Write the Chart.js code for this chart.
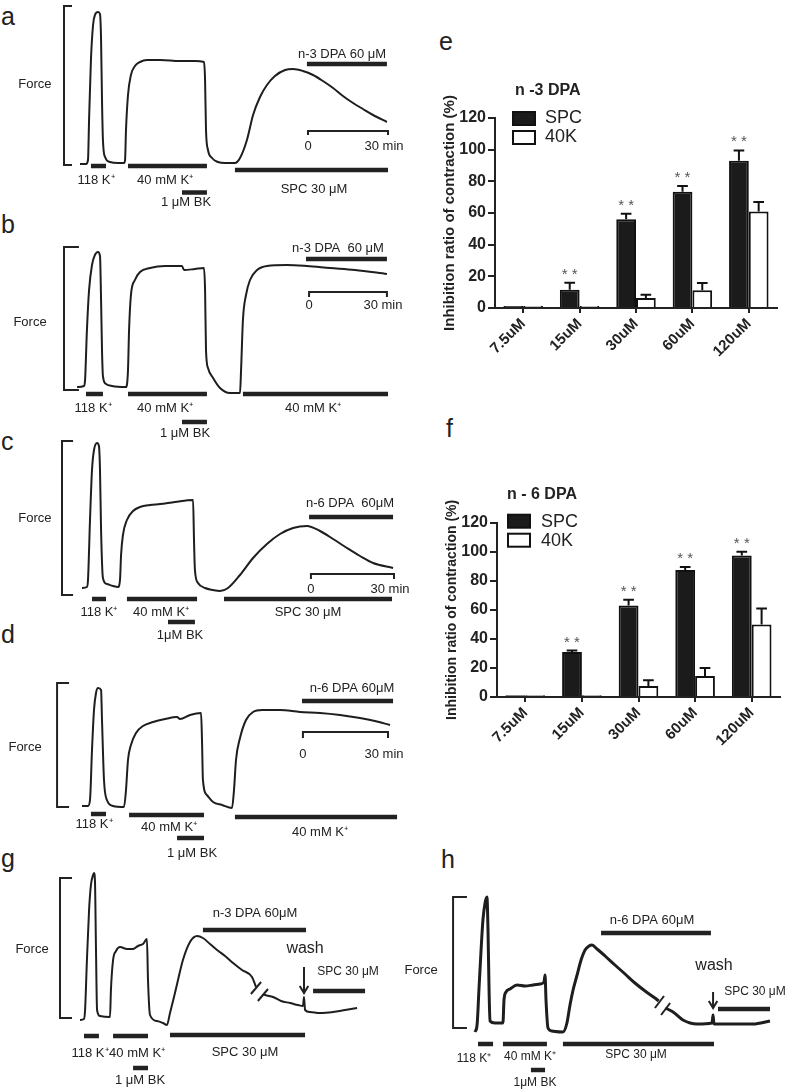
<!DOCTYPE html>
<html>
<head>
<meta charset="utf-8">
<script src="https://cdn.jsdelivr.net/npm/chart.js@4.4.1/dist/chart.umd.min.js"></script>
<style>
  body { margin: 0; background: #fff; width: 787px; height: 1092px; position: relative; overflow: hidden;
         font-family: "Liberation Sans", Arial, sans-serif; }
  canvas { position: absolute; }
  .lt { position: absolute; font-size: 25px; line-height: 1; color: #222; }
</style>
</head>
<body>
<div class="lt" style="left:1px;top:4px">a</div>
<div class="lt" style="left:1px;top:212px">b</div>
<div class="lt" style="left:1px;top:429px">c</div>
<div class="lt" style="left:1px;top:622px">d</div>
<div class="lt" style="left:439px;top:29px">e</div>
<div class="lt" style="left:446px;top:416px">f</div>
<div class="lt" style="left:1px;top:846px">g</div>
<div class="lt" style="left:441px;top:847px">h</div>

<script>
// -------------------------------------------------------
// 1. DATA
// traces: time in minutes, force in arbitrary units (0 = baseline)
// treatments: [label, start min, end min]
// -------------------------------------------------------
const aTime  = [30,32.25,33,33.4,34.1,34.9,35.6,36.75,37.5,37.9,38.25,38.6,39.4,41.25,44.25,46.5,46.9,47.25,48,49.1,50.6,52.5,55.1,60,67.5,73.1,76.5,76.9,77.25,78,79.5,81.75,84.4,88.1,90,92.6,94.9,97.5,100.1,103.1,106.9,109.9,113.6,117.4,121.1,124.9,128.6,132.4,136.1,139.9,145.1];
const aForce = [1,1,5,45,105,140,150,153,151,125,65,25,8,3,2,2,5,35,70,90,99,103,105,105,104,104,103,85,35,15,7,3,2,2,7,25,50,68,80,89,95,96,94,90,84,77,69,62,56,50,43];
const aTreat = [['118 K⁺',34.1,39.75],['40 mM K⁺',48,77.6],['1 μM BK',68.25,77.6],['SPC 30 μM',88.1,145.5],['n-3 DPA 60 μM',115.1,145.1]];

const bTime  = [28.9,31.5,31.9,32.6,33.4,34.5,35.6,36.75,37.5,37.9,38.25,38.6,39.75,42,47.25,48,48.4,49.1,50.6,52.5,56.25,61.9,68.25,69,73.1,76.5,76.9,77.25,78,79.9,82.5,86.25,90,90.4,91.1,92.25,93.75,96.4,100.1,107.6,115.1,123.75,133.1,145.1];
const bForce = [3,4,10,60,100,125,135,138,134,90,40,14,6,4,3,20,60,95,110,118,122,124,124,120,121,122,100,40,22,12,2,-3,-3,20,70,95,110,120,124,125,124,122,120,116];
const bTreat = [['118 K⁺',32.25,38.6],['40 mM K⁺',48,77.6],['1 μM BK',68.25,77.6],['40 mM K⁺',91.1,145.5],['n-3 DPA  60 μM',114.75,145.1]];

const cTime  = [30.75,32.6,33,33.75,34.5,35.25,36.4,37.1,37.5,37.9,38.6,40.1,42.4,44.25,45,45.4,46.1,47.6,49.9,52.5,56.25,60,65.6,72.4,72.75,73.1,74.25,76.9,79.9,82.5,85.5,90,94.9,100.1,105,109.9,115.1,120,124.9,130.1,135,139.9,147.4];
const cForce = [7,8,15,75,125,145,152,149,125,65,17,11,9,8,15,40,60,75,84,88,90,91,93,95,55,25,12,7,5,4,7,20,37,51,61,67,69,64,56,47,39,32,27];
const cTreat = [['118 K⁺',34.5,39.75],['40 mM K⁺',47.6,73.9],['1μM BK',63,73.1],['SPC 30 μM',84,147],['n-6 DPA  60μM',115.9,147.4]];

const dTime  = [30.75,33,33.75,34.5,35.25,36,36.75,37.9,38.25,39,40.1,42.4,46.5,47.25,48,49.1,51,53.6,57.4,61.9,66.4,67.5,71.25,75.4,75.75,76.1,77.6,79.9,83.25,87,87.75,88.5,90,92.25,94.9,98.25,105,112.5,120,127.5,135,140.6,146.25];
const dForce = [1,1,7,57,97,114,119,117,87,27,7,1,0,17,47,62,74,81,85,88,90,88,92,94,67,27,12,5,2,-1,17,47,69,87,95,97,97,95,94,92,89,86,82];
const dTreat = [['118 K⁺',34.1,39.75],['40 mM K⁺',48.4,76.5],['1 μM BK',66.4,76.5],['40 mM K⁺',88.1,148.9],['n-6 DPA 60μM',113.25,147.4]];

const gTime  = [30,31.5,31.9,32.6,33.4,34.1,34.9,35.25,35.6,36,36.4,37.5,41.25,41.6,42.4,43.5,45,47.6,49.9,51.75,53.6,55.1,55.5,56.25,58.9,61.1,62.6,63.75,65.25,66.75,68.6,71.25,73.9,76.1,78.75,81.4,84.4,87.4,90.75,94.5,96,97.3,98.6,99.4,102.4,105.4,108.75,111.75,113.6,114,114.4,116.25,120,124.9,129.4,133.9];
const gForce = [-2,-1,8,58,108,133,143,145,138,68,8,2,1,28,58,67,71,69,69,72,74,79,38,3,-3,-5,-7,5,21,38,58,76,82,80,74,68,62,55,48,41,31,null,24,23,21,17,15,13,12,21,8,6,5,6,8,10];
const gTreat = [['118 K⁺',31.5,37.1],['40 mM K⁺',42.4,55.5],['1 μM BK',49.9,55.5],['SPC 30 μM',63.75,114.4],['n-3 DPA 60μM',76.1,114.75],['SPC 30 μM',117.4,136.9]];

const hTime  = [28.1,28.9,29.6,30.4,31.1,31.9,32.6,33,33.4,33.75,35.6,38.6,39,39.75,41.25,43.9,46.9,49.9,52.5,54,54.4,54.75,55.5,57,61.1,62.6,63.75,64.9,66.4,67.9,69.4,70.9,72,73.9,76.9,80.6,84.4,88.1,91.9,95.6,97,98.2,99.5,102.4,106.1,111.4,117,117.4,117.75,123.75,132.4,138.75];
const hForce = [-4,3,38,78,108,125,131,98,38,7,5,5,28,36,39,43,42,43,44,46,53,28,0,-3,-4,5,23,38,53,68,78,82,83,79,72,63,54,45,37,30,27,null,20,16,8,4,5,13,4,4,4,7];
const hTreat = [['118 K⁺',29.25,34.9],['40 mM K⁺',38.6,55.1],['1μM BK',49.1,54.4],['SPC 30 μM',61.1,117.75],['n-6 DPA 60μM',75.4,116.6],['SPC 30 μM',119.25,138.75]];

// bar charts: inhibition ratio of contraction (%)
const doseLabels = ['7.5uM','15uM','30uM','60uM','120uM'];
const eSPC    = [1.2, 11.5, 56, 73.5, 93];
const eSPCerr = [0, 4.5, 3.5, 3.5, 6.5];
const e40K    = [1.2, 1.2, 6.3, 11.2, 61];
const e40Kerr = [0, 0, 2, 4.6, 6];
const fSPC    = [1.2, 31, 63, 87.5, 97.5];
const fSPCerr = [0, 1, 4, 2, 2.5];
const f40K    = [1.2, 1.2, 7.6, 14.5, 50];
const f40Kerr = [0, 0, 3.9, 5.5, 11];
const starMark = [false, true, true, true, true];

// -------------------------------------------------------
// 2. LAYOUT (page px for canvases, data units for marks)
// -------------------------------------------------------
const FONT = '"Liberation Sans", Arial, sans-serif';
const INK = '#222';

const tracePanels = [
  { left:0, top:0, width:420, height:210, base:165, xMax:157.5, lw:2, time:aTime, force:aForce, treat:aTreat,
    rows:[-1,-1,-27.5,-5,101], labels:[[36,-15],[61.9,-15],[69.75,-37],[117.75,-24],[128.25,111]],
    bracket:[24,27,159], forceAt:[13.1,81], scale:[115.5,145.5,34,30,19] },
  { left:0, top:210, width:420, height:230, base:390, xMax:157.5, lw:2, time:bTime, force:bForce, treat:bTreat,
    rows:[-4,-4,-32,-4,131], labels:[[34.9,-18],[61.9,-18],[69.4,-43],[117.4,-18],[126.75,142]],
    bracket:[24,29.6,143], forceAt:[11.25,68], scale:[115.9,145.1,98,93,85] },
  { left:0, top:432, width:420, height:233, base:595, xMax:157.5, lw:2, time:cTime, force:cForce, treat:cTreat,
    rows:[-4,-4,-27,-4,78], labels:[[37.1,-17],[60.4,-17],[67.5,-40],[115.5,-17],[131.25,92]],
    bracket:[23.25,27.4,154], forceAt:[13.1,77], scale:[116.6,147.75,21,16,6] },
  { left:0, top:665, width:420, height:195, base:807, xMax:157.5, lw:2, time:dTime, force:dForce, treat:dTreat,
    rows:[-7,-8,-31,-10,106], labels:[[35.25,-17],[63.4,-20],[72,-46],[120,-25],[132,119]],
    bracket:[21.4,25.9,124], forceAt:[9.4,60], scale:[113.6,145.5,75,69,53] },
  { left:0, top:860, width:400, height:232, base:1018, xMax:150, lw:2, time:gTime, force:gForce, treat:gTreat,
    rows:[-18,-18,-50,-17,88,27], labels:[[33.75,-35],[51.4,-35],[52.5,-62],[91.9,-34],[95.6,105],[130.5,46,12]],
    bracket:[22.5,27,140], forceAt:[12,69],
    wash:[114,51,25,114.4,69], breaks:[[[94.1,24],[97.9,36]],[[96.7,17],[100.5,29]]] },
  { left:400, top:860, width:387, height:232, base:1028, xMax:145.125, lw:3, time:hTime, force:hForce, treat:hTreat,
    rows:[-16,-16,-42,-16,95,19], labels:[[27.75,-31,12],[48.75,-29,12],[50.6,-55,12],[88.5,-27,12],[94.5,108],[133.1,36,12]],
    bracket:[19.9,25.1,131], forceAt:[7.9,58],
    wash:[117.4,36,20,117.75,62], breaks:[[[95.6,20],[99,32]],[[97.9,13],[101.3,25]]] }
];

const barPanels = [
  { left:400, top:0, width:387, height:370, padTop:118, padRight:10, yw:95, xh:62,
    spc:eSPC, spcErr:eSPCerr, k40:e40K, k40Err:e40Kerr, title:'n -3 DPA', titleSize:16, ySize:15,
    titleAt:[20,-27], boxAt:[18,-6,50,0,19] },
  { left:400, top:420, width:387, height:330, padTop:102.7, padRight:7, yw:97, xh:53,
    spc:fSPC, spcErr:fSPCerr, k40:f40K, k40Err:f40Kerr, title:'n - 6 DPA', titleSize:16, ySize:14,
    titleAt:[10,-28], boxAt:[11,-8,44,-1,19] }
];

// -------------------------------------------------------
// 3. PLUGINS
// -------------------------------------------------------
const traceText = {
  id: 'traceText',
  afterDatasetsDraw(chart, args, opts) {
    const { ctx, scales: { x, y } } = chart;
    ctx.save();
    ctx.fillStyle = INK;
    ctx.textBaseline = 'middle';
    (opts.items || []).forEach(it => {
      ctx.font = (it[3] || 13) + 'px ' + FONT;
      ctx.textAlign = it[4] || 'center';
      ctx.fillText(it[0], x.getPixelForValue(it[1]), y.getPixelForValue(it[2]));
    });
    ctx.restore();
  }
};

const barDeco = {
  id: 'barDeco',
  afterDatasetsDraw(chart, args, opts) {
    const { ctx, chartArea: ca, scales: { y } } = chart;
    ctx.save();
    ctx.strokeStyle = '#111';
    ctx.lineWidth = 2;
    // error bars (upper only) + significance stars
    chart.data.datasets.forEach((ds, i) => {
      chart.getDatasetMeta(i).data.forEach((bar, j) => {
        const e = ds.err[j];
        if (!e) return;
        const top = y.getPixelForValue(ds.data[j] + e);
        const half = bar.width * 0.27;
        ctx.beginPath();
        ctx.moveTo(bar.x, bar.y);
        ctx.lineTo(bar.x, top);
        ctx.moveTo(bar.x - half, top);
        ctx.lineTo(bar.x + half, top);
        ctx.stroke();
        if (i === 0 && starMark[j]) {
          ctx.fillStyle = '#555';
          ctx.font = '15px ' + FONT;
          ctx.textAlign = 'center';
          ctx.textBaseline = 'alphabetic';
          ctx.fillText('* *', bar.x, top - 4);
        }
      });
    });
    // title + legend
    const b = opts.boxAt;
    ctx.fillStyle = INK;
    ctx.font = 'bold ' + opts.titleSize + 'px ' + FONT;
    ctx.textAlign = 'left';
    ctx.textBaseline = 'middle';
    ctx.fillText(opts.title, ca.left + opts.titleAt[0], ca.top + opts.titleAt[1]);
    ctx.fillStyle = '#1b1b1b';
    ctx.fillRect(ca.left + b[0], ca.top + b[1], 22, 13);
    ctx.strokeRect(ca.left + b[0], ca.top + b[1], 22, 13);
    ctx.fillStyle = '#fff';
    ctx.fillRect(ca.left + b[0], ca.top + b[1] + b[4], 22, 13);
    ctx.strokeRect(ca.left + b[0], ca.top + b[1] + b[4], 22, 13);
    ctx.fillStyle = INK;
    ctx.font = '18px ' + FONT;
    ctx.fillText('SPC', ca.left + b[2], ca.top + b[3]);
    ctx.fillText('40K', ca.left + b[2], ca.top + b[3] + b[4]);
    // rotated y title
    ctx.save();
    ctx.translate(ca.left - 45, (ca.top + ca.bottom) / 2);
    ctx.rotate(-Math.PI / 2);
    ctx.textAlign = 'center';
    ctx.font = 'bold ' + opts.ySize + 'px ' + FONT;
    ctx.fillText('Inhibition ratio of contraction (%)', 0, 0);
    ctx.restore();
    ctx.restore();
  }
};

// -------------------------------------------------------
// 4. BUILDERS
// -------------------------------------------------------
function makeCanvas(p) {
  const cv = document.createElement('canvas');
  cv.width = p.width;
  cv.height = p.height;
  cv.style.left = p.left + 'px';
  cv.style.top = p.top + 'px';
  document.body.appendChild(cv);
  return cv;
}

function seg(points, w) {
  return { data: points.map(q => ({ x: q[0], y: q[1] })), borderColor: INK, borderWidth: w,
           pointRadius: 0, tension: 0, clip: false, borderCapStyle: 'butt', fill: false };
}

function buildTrace(p) {
  const cv = makeCanvas(p);
  const ds = [{
    data: p.time.map((t, i) => ({ x: t, y: p.force[i] })),
    borderColor: '#1e1e1e', borderWidth: p.lw, pointRadius: 0, clip: false,
    cubicInterpolationMode: 'monotone', spanGaps: false, borderJoinStyle: 'round'
  }];
  const br = p.bracket;
  ds.push(seg([[br[1], br[2]], [br[0], br[2]], [br[0], 0], [br[1], 0]], 2));
  p.treat.forEach((tr, i) => ds.push(seg([[tr[1], p.rows[i]], [tr[2], p.rows[i]]], 4.5)));

  const items = p.treat.map((tr, i) => [tr[0], p.labels[i][0], p.labels[i][1], p.labels[i][2] || 13]);
  items.push(['Force', p.forceAt[0], p.forceAt[1], 13]);
  if (p.scale) {
    const s = p.scale;
    ds.push(seg([[s[0], s[3]], [s[0], s[2]], [s[1], s[2]], [s[1], s[3]]], 2));
    items.push(['0', s[0], s[4], 13]);
    items.push(['30 min', s[1] - 1.5, s[4], 13]);
  }
  if (p.wash) {
    const w = p.wash;
    ds.push(seg([[w[0], w[1]], [w[0], w[2]]], 2));
    ds.push(seg([[w[0] - 1.6, w[2] + 7], [w[0], w[2]], [w[0] + 1.6, w[2] + 7]], 2));
    items.push(['wash', w[3], w[4], 16]);
  }
  (p.breaks || []).forEach(bk => ds.push(seg(bk, 2)));

  new Chart(cv, {
    type: 'line',
    data: { datasets: ds },
    options: {
      responsive: false, animation: false, devicePixelRatio: 1, events: [],
      layout: { padding: 0 },
      plugins: { legend: { display: false }, tooltip: { enabled: false }, traceText: { items } },
      scales: {
        x: { type: 'linear', display: false, min: 0, max: p.xMax },
        y: { type: 'linear', display: false, min: p.base - (p.top + p.height), max: p.base - p.top }
      }
    },
    plugins: [traceText]
  });
}

function buildBars(p) {
  const cv = makeCanvas(p);
  const common = { borderColor: '#111', borderWidth: 2, borderSkipped: 'start',
                   categoryPercentage: 0.7, barPercentage: 1 };
  new Chart(cv, {
    type: 'bar',
    data: {
      labels: doseLabels,
      datasets: [
        Object.assign({ label: 'SPC', data: p.spc, err: p.spcErr, backgroundColor: '#1b1b1b' }, common),
        Object.assign({ label: '40K', data: p.k40, err: p.k40Err, backgroundColor: '#fff' }, common)
      ]
    },
    options: {
      responsive: false, animation: false, devicePixelRatio: 1, events: [],
      layout: { padding: { top: p.padTop, right: p.padRight, left: 0, bottom: 0 } },
      plugins: {
        legend: { display: false }, tooltip: { enabled: false },
        barDeco: { title: p.title, titleSize: p.titleSize, ySize: p.ySize, titleAt: p.titleAt, boxAt: p.boxAt }
      },
      scales: {
        x: {
          grid: { offset: false, drawOnChartArea: false, drawTicks: true, tickLength: 5, color: INK, lineWidth: 2 },
          border: { color: INK, width: 2 },
          ticks: { minRotation: 45, maxRotation: 45, color: INK, padding: 2, font: { family: FONT, weight: 'bold', size: 15 } },
          afterFit(s) { s.height = p.xh; }
        },
        y: {
          min: 0, max: 120,
          grid: { drawOnChartArea: false, drawTicks: true, tickLength: 7, color: INK, lineWidth: 2 },
          border: { color: INK, width: 2 },
          ticks: { stepSize: 20, color: INK, padding: 2, font: { family: FONT, weight: 'bold', size: 16 } },
          afterFit(s) { s.width = p.yw; }
        }
      }
    },
    plugins: [barDeco]
  });
}

tracePanels.forEach(buildTrace);
barPanels.forEach(buildBars);
</script>
</body>
</html>
